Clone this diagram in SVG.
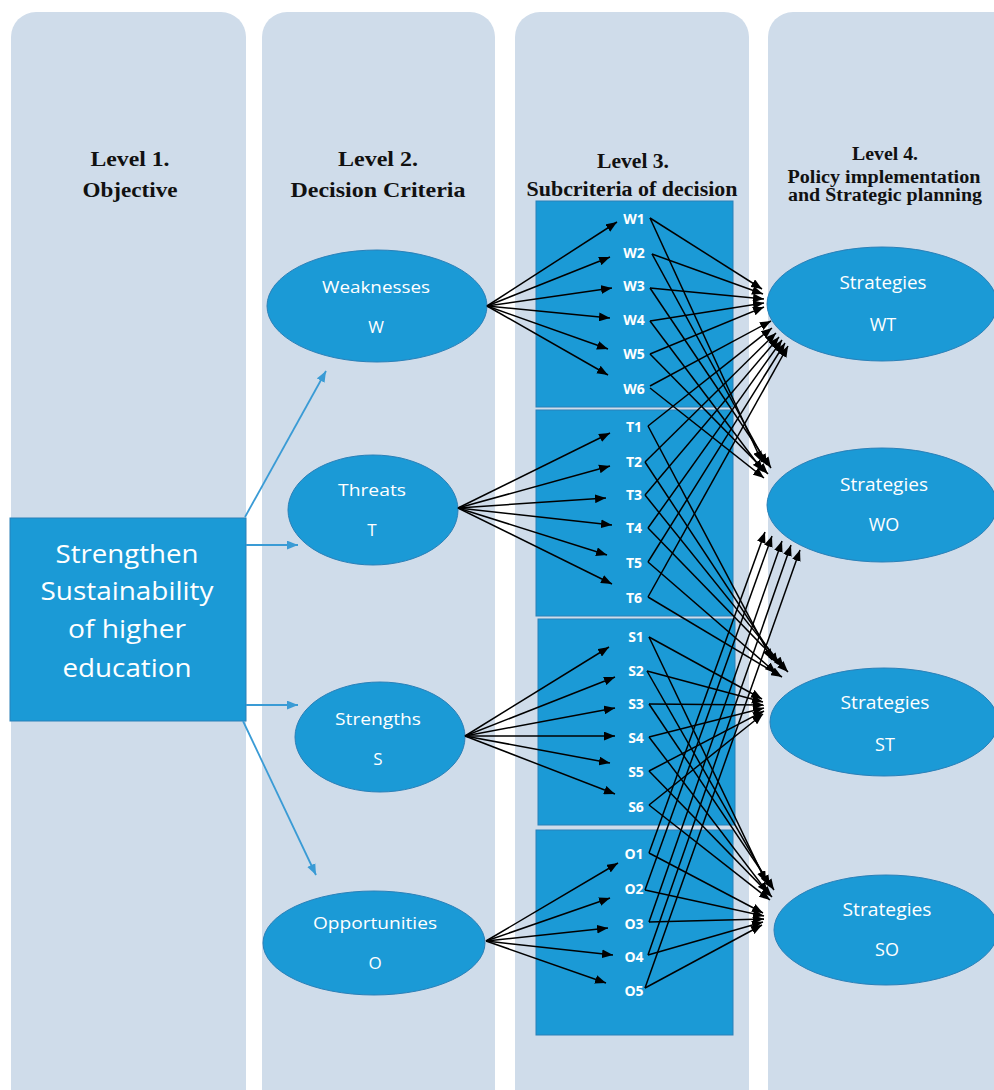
<svg xmlns="http://www.w3.org/2000/svg" width="994" height="1090" viewBox="0 0 994 1090">
<style>
.panel{fill:#cfdcea}
.node{fill:#1b9ad6;stroke:#2a80b8;stroke-width:1}
.hdr{font-family:"Liberation Serif","Times New Roman",serif;font-weight:bold;fill:#111;text-anchor:middle}
.wt{font-family:"Open Sans","Liberation Sans",sans-serif;fill:#fff;text-anchor:middle}
.sub{font-family:"Open Sans","Liberation Sans",sans-serif;fill:#fff;text-anchor:middle;font-weight:bold;font-size:14px}
.bl{stroke:#000;stroke-width:1.5;fill:none;marker-end:url(#ab)}
.bu{stroke:#3a9bd5;stroke-width:1.8;fill:none;marker-end:url(#au)}
</style>
<defs>
<marker id="ab" viewBox="0 0 10 8" refX="10" refY="4" markerWidth="11" markerHeight="9" markerUnits="userSpaceOnUse" orient="auto"><path d="M0,0 L10,4 L0,8 z" fill="#000"/></marker>
<marker id="au" viewBox="0 0 10 8" refX="10" refY="4" markerWidth="11" markerHeight="9" markerUnits="userSpaceOnUse" orient="auto"><path d="M0,0 L10,4 L0,8 z" fill="#3a9bd5"/></marker>
</defs>
<rect width="994" height="1090" fill="#fff"/>
<g id="panels">
<rect class="panel" x="11" y="12" width="235" height="1110" rx="25"/>
<rect class="panel" x="262" y="12" width="233" height="1110" rx="25"/>
<rect class="panel" x="515" y="12" width="234" height="1110" rx="25"/>
<rect class="panel" x="768" y="12" width="250" height="1110" rx="25"/>
</g>
<g id="headers">
<text class="hdr" x="130" y="166" font-size="21" textLength="79" lengthAdjust="spacingAndGlyphs">Level 1.</text>
<text class="hdr" x="130" y="197" font-size="21" textLength="95" lengthAdjust="spacingAndGlyphs">Objective</text>
<text class="hdr" x="378" y="166" font-size="21" textLength="80" lengthAdjust="spacingAndGlyphs">Level 2.</text>
<text class="hdr" x="378" y="197" font-size="21" textLength="175" lengthAdjust="spacingAndGlyphs">Decision Criteria</text>
<text class="hdr" x="633" y="168" font-size="20" textLength="72" lengthAdjust="spacingAndGlyphs">Level 3.</text>
<text class="hdr" x="632" y="196" font-size="20" textLength="211" lengthAdjust="spacingAndGlyphs">Subcriteria of decision</text>
<text class="hdr" x="885" y="160" font-size="18" textLength="66" lengthAdjust="spacingAndGlyphs">Level 4.</text>
<text class="hdr" x="884" y="183" font-size="18" textLength="193" lengthAdjust="spacingAndGlyphs">Policy implementation</text>
<text class="hdr" x="885" y="201" font-size="18" textLength="194" lengthAdjust="spacingAndGlyphs">and Strategic planning</text>
</g>
<g id="objective">
<rect class="node" x="10" y="518" width="236" height="203"/>
<text class="wt" x="127" y="563" font-size="25" textLength="143" lengthAdjust="spacingAndGlyphs">Strengthen</text>
<text class="wt" x="127" y="600" font-size="25" textLength="173" lengthAdjust="spacingAndGlyphs">Sustainability</text>
<text class="wt" x="127" y="638" font-size="25" textLength="118" lengthAdjust="spacingAndGlyphs">of higher</text>
<text class="wt" x="127" y="677" font-size="25" textLength="129" lengthAdjust="spacingAndGlyphs">education</text>
</g>
<g id="weaknesses">
<ellipse class="node" cx="377" cy="306" rx="110" ry="56"/>
<text class="wt" x="376" y="293" font-size="17" textLength="108" lengthAdjust="spacingAndGlyphs">Weaknesses</text>
<text class="wt" x="376" y="333" font-size="17">W</text>
</g>
<g id="threats">
<ellipse class="node" cx="373" cy="510" rx="85" ry="55"/>
<text class="wt" x="372" y="496" font-size="17" textLength="68" lengthAdjust="spacingAndGlyphs">Threats</text>
<text class="wt" x="372" y="536" font-size="17">T</text>
</g>
<g id="strengths">
<ellipse class="node" cx="380" cy="737" rx="85" ry="55"/>
<text class="wt" x="378" y="725" font-size="17" textLength="86" lengthAdjust="spacingAndGlyphs">Strengths</text>
<text class="wt" x="378" y="765" font-size="17">S</text>
</g>
<g id="opportunities">
<ellipse class="node" cx="374" cy="943" rx="111" ry="52"/>
<text class="wt" x="375" y="929" font-size="17" textLength="124" lengthAdjust="spacingAndGlyphs">Opportunities</text>
<text class="wt" x="375" y="969" font-size="17">O</text>
</g>
<g id="sub-w">
<rect class="node" x="536" y="201" width="197" height="206"/>
<text class="sub" x="634" y="224">W1</text>
<text class="sub" x="634" y="258">W2</text>
<text class="sub" x="634" y="291">W3</text>
<text class="sub" x="634" y="325">W4</text>
<text class="sub" x="634" y="359">W5</text>
<text class="sub" x="634" y="394">W6</text>
</g>
<g id="sub-t">
<rect class="node" x="536" y="410" width="197" height="206"/>
<text class="sub" x="634" y="432">T1</text>
<text class="sub" x="634" y="467">T2</text>
<text class="sub" x="634" y="500">T3</text>
<text class="sub" x="634" y="533">T4</text>
<text class="sub" x="634" y="568">T5</text>
<text class="sub" x="634" y="603">T6</text>
</g>
<g id="sub-s">
<rect class="node" x="538" y="619" width="197" height="206"/>
<text class="sub" x="636" y="642">S1</text>
<text class="sub" x="636" y="676">S2</text>
<text class="sub" x="636" y="709">S3</text>
<text class="sub" x="636" y="743">S4</text>
<text class="sub" x="636" y="777">S5</text>
<text class="sub" x="636" y="812">S6</text>
</g>
<g id="sub-o">
<rect class="node" x="536" y="830" width="197" height="205"/>
<text class="sub" x="634" y="859">O1</text>
<text class="sub" x="634" y="894">O2</text>
<text class="sub" x="634" y="929">O3</text>
<text class="sub" x="634" y="962">O4</text>
<text class="sub" x="634" y="996">O5</text>
</g>
<g id="wt">
<ellipse class="node" cx="882" cy="304" rx="115" ry="57"/>
<text class="wt" x="883" y="289" font-size="18" textLength="87" lengthAdjust="spacingAndGlyphs">Strategies</text>
<text class="wt" x="883" y="331" font-size="18">WT</text>
</g>
<g id="wo">
<ellipse class="node" cx="882" cy="505" rx="115" ry="57"/>
<text class="wt" x="884" y="491" font-size="18" textLength="88" lengthAdjust="spacingAndGlyphs">Strategies</text>
<text class="wt" x="884" y="531" font-size="18">WO</text>
</g>
<g id="st">
<ellipse class="node" cx="884" cy="722" rx="114" ry="54"/>
<text class="wt" x="885" y="709" font-size="18" textLength="89" lengthAdjust="spacingAndGlyphs">Strategies</text>
<text class="wt" x="885" y="751" font-size="18">ST</text>
</g>
<g id="so">
<ellipse class="node" cx="886" cy="930" rx="112" ry="55"/>
<text class="wt" x="887" y="916" font-size="18" textLength="89" lengthAdjust="spacingAndGlyphs">Strategies</text>
<text class="wt" x="887" y="956" font-size="18">SO</text>
</g>
<g id="connectors">
<path class="bu" d="M245,517 L326,371"/>
<path class="bu" d="M246,545 L298,545"/>
<path class="bu" d="M246,705 L298,705"/>
<path class="bu" d="M243,721 L316,875"/>

<path class="bl" d="M487,306 L617,222"/>
<path class="bl" d="M487,306 L610,257"/>
<path class="bl" d="M487,306 L612,288"/>
<path class="bl" d="M487,306 L610,318"/>
<path class="bl" d="M487,306 L608,349"/>
<path class="bl" d="M487,306 L608,375"/>

<path class="bl" d="M458,508 L610,433"/>
<path class="bl" d="M458,508 L610,466"/>
<path class="bl" d="M458,508 L606,498"/>
<path class="bl" d="M458,508 L612,525"/>
<path class="bl" d="M458,508 L607,555"/>
<path class="bl" d="M458,508 L612,584"/>

<path class="bl" d="M465,736 L609,647"/>
<path class="bl" d="M465,736 L615,677"/>
<path class="bl" d="M465,736 L615,708"/>
<path class="bl" d="M465,736 L615,736"/>
<path class="bl" d="M465,736 L610,763"/>
<path class="bl" d="M465,736 L615,794"/>

<path class="bl" d="M486,941 L618,863"/>
<path class="bl" d="M486,941 L610,898"/>
<path class="bl" d="M486,941 L608,928"/>
<path class="bl" d="M486,941 L613,955"/>
<path class="bl" d="M486,941 L606,983"/>

<path class="bl" d="M650,218 L762,289"/>
<path class="bl" d="M652,254 L763,294"/>
<path class="bl" d="M650,288 L764,299"/>
<path class="bl" d="M650,321 L764,303"/>
<path class="bl" d="M650,354 L764,307"/>
<path class="bl" d="M650,386 L771,321"/>

<path class="bl" d="M650,218 L762,462"/>
<path class="bl" d="M652,254 L767,465"/>
<path class="bl" d="M650,288 L771,468"/>
<path class="bl" d="M650,321 L763,471"/>
<path class="bl" d="M650,354 L768,474"/>
<path class="bl" d="M650,388 L764,478"/>

<path class="bl" d="M648,426 L772,328"/>
<path class="bl" d="M645,462 L776,333"/>
<path class="bl" d="M645,495 L779,337"/>
<path class="bl" d="M648,528 L782,340"/>
<path class="bl" d="M648,562 L785,343"/>
<path class="bl" d="M648,597 L788,346"/>

<path class="bl" d="M648,426 L772,660"/>
<path class="bl" d="M645,462 L778,664"/>
<path class="bl" d="M645,495 L784,668"/>
<path class="bl" d="M648,528 L788,672"/>
<path class="bl" d="M648,562 L776,673"/>
<path class="bl" d="M648,597 L782,677"/>

<path class="bl" d="M649,637 L762,699"/>
<path class="bl" d="M647,671 L763,702"/>
<path class="bl" d="M649,704 L764,705"/>
<path class="bl" d="M649,737 L764,708"/>
<path class="bl" d="M649,771 L764,711"/>
<path class="bl" d="M649,805 L763,714"/>

<path class="bl" d="M649,637 L766,882"/>
<path class="bl" d="M647,671 L770,886"/>
<path class="bl" d="M649,704 L774,890"/>
<path class="bl" d="M649,737 L768,893"/>
<path class="bl" d="M649,771 L772,897"/>
<path class="bl" d="M649,805 L770,900"/>

<path class="bl" d="M649,853 L765,532"/>
<path class="bl" d="M645,890 L772,536"/>
<path class="bl" d="M649,922 L782,541"/>
<path class="bl" d="M648,955 L791,545"/>
<path class="bl" d="M645,988 L800,550"/>

<path class="bl" d="M649,853 L763,913"/>
<path class="bl" d="M645,890 L764,916"/>
<path class="bl" d="M649,922 L764,919"/>
<path class="bl" d="M648,955 L763,922"/>
<path class="bl" d="M645,988 L762,925"/>
</g>
</svg>
